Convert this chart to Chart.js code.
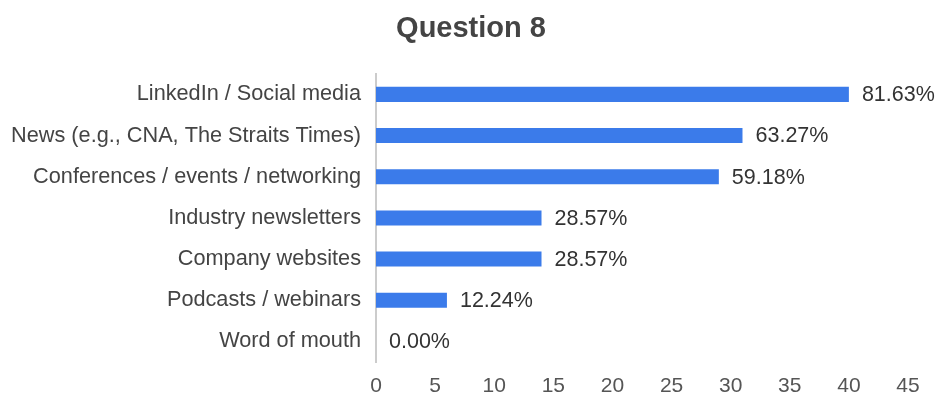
<!DOCTYPE html>
<html>
<head>
<meta charset="utf-8">
<script src="https://cdn.jsdelivr.net/npm/chart.js@4"></script>
<style>
  html, body { margin: 0; padding: 0; background: #fff; }
  #wrap { width: 938px; height: 398px; }
</style>
</head>
<body>
<div id="wrap"><canvas id="q8Chart"></canvas></div>
<script>
const categories = [
  "LinkedIn / Social media",
  "News (e.g., CNA, The Straits Times)",
  "Conferences / events / networking",
  "Industry newsletters",
  "Company websites",
  "Podcasts / webinars",
  "Word of mouth"
];
const responses = [40, 31, 29, 14, 14, 6, 0];
const totalRespondents = 49;
const xTicks = [0, 5, 10, 15, 20, 25, 30, 35, 40, 45];

const barColor = "#3b7bea";
const textColor = "#444444";
const fontFamily = "'Liberation Sans', Arial, sans-serif";

function pct(v) {
  return (v / totalRespondents * 100).toFixed(2) + "%";
}

// writes the share of respondents just past the end of each bar
const percentLabels = {
  id: "percentLabels",
  afterDatasetsDraw(chart) {
    const ctx = chart.ctx;
    const meta = chart.getDatasetMeta(0);
    ctx.save();
    ctx.font = "21.5px " + fontFamily;
    ctx.fillStyle = "#333333";
    ctx.textAlign = "left";
    ctx.textBaseline = "middle";
    meta.data.forEach((bar, i) => {
      ctx.fillText(pct(responses[i]), bar.x + 13, bar.y + 1);
    });
    ctx.restore();
  }
};

new Chart(document.getElementById("q8Chart"), {
  type: "bar",
  data: {
    labels: categories,
    datasets: [{
      data: responses,
      backgroundColor: barColor,
      borderWidth: 0,
      barPercentage: 0.42,
      categoryPercentage: 0.87
    }]
  },
  options: {
    indexAxis: "y",
    responsive: true,
    maintainAspectRatio: false,
    animation: false,
    layout: { padding: { left: 6, right: 2, top: 0, bottom: 0 } },
    plugins: {
      legend: { display: false },
      tooltip: { enabled: false },
      title: {
        display: true,
        text: "Question 8",
        color: textColor,
        font: { family: fontFamily, size: 29, weight: "bold" },
        padding: { top: 12, bottom: 27 }
      }
    },
    scales: {
      x: {
        min: 0,
        max: 45,
        afterBuildTicks(axis) { axis.ticks = xTicks.map(v => ({ value: v })); },
        afterFit(axis) { axis.height = 36; },
        grid: { display: false, drawTicks: false },
        border: { display: false },
        ticks: {
          color: "#555555",
          padding: 12,
          maxRotation: 0,
          font: { family: fontFamily, size: 21 }
        }
      },
      y: {
        afterFit(axis) { axis.width = 370; },
        grid: { display: false, drawTicks: false },
        border: { display: true, color: "#cccccc", width: 2 },
        ticks: {
          color: textColor,
          padding: 15,
          font: { family: fontFamily, size: 21.7 }
        }
      },
      // empty right-hand gutter so the last x tick and the value labels fit
      gutter: {
        type: "category",
        position: "right",
        afterFit(axis) { axis.width = 28; },
        grid: { display: false, drawTicks: false },
        border: { display: false },
        ticks: { display: false }
      }
    }
  },
  plugins: [percentLabels]
});
</script>
</body>
</html>
